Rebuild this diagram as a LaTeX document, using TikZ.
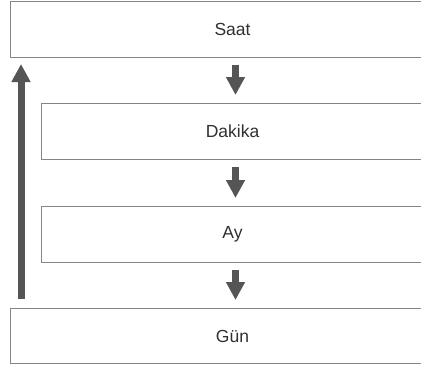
\documentclass[tikz,border=0pt]{standalone}
\usepackage{fontspec}
\setmainfont{Liberation Sans}
\usetikzlibrary{arrows.meta}
\definecolor{boxline}{HTML}{858585}
\definecolor{arrowgray}{HTML}{555555}
\definecolor{txtgray}{HTML}{303030}
\begin{document}
\begin{tikzpicture}[x=1pt,y=-1pt,
    box/.style={draw=boxline,line width=1pt,rectangle,anchor=north west,inner sep=0pt,
      minimum height=56pt,text=txtgray,font=\fontsize{17.5}{21}\selectfont},
    flow/.style={draw=arrowgray,line width=7pt,-{Triangle[width=18pt,length=18pt]},
      shorten <=7pt,shorten >=8pt}]
   \useasboundingbox (0,0) rectangle (421,365);
   \clip (0,0) rectangle (421,365);
   \node[box,minimum width=444pt] (saat) at (10,0.5) {Saat};
   \node[box,minimum width=382pt,minimum height=56pt] (dakika) at (41,103) {Dakika};
   \node[box,minimum width=382pt] (ay) at (41,206) {Ay};
   \node[box,minimum width=444pt,minimum height=55pt] (gun) at (10,308) {Gün};
   \draw[flow] ([xshift=3pt]saat.south) -- ([xshift=3pt]dakika.north);
   \draw[flow] ([xshift=3pt]dakika.south) -- ([xshift=3pt]ay.north);
   \draw[flow] ([xshift=3pt]ay.south) -- ([xshift=3pt]gun.north);
   % back to the top
   \coordinate (back1) at (21,299);
   \coordinate (back2) at (21,64);
   \draw[flow,shorten <=0pt,shorten >=0pt] (back1) -- (back2);
\end{tikzpicture}
\end{document}
